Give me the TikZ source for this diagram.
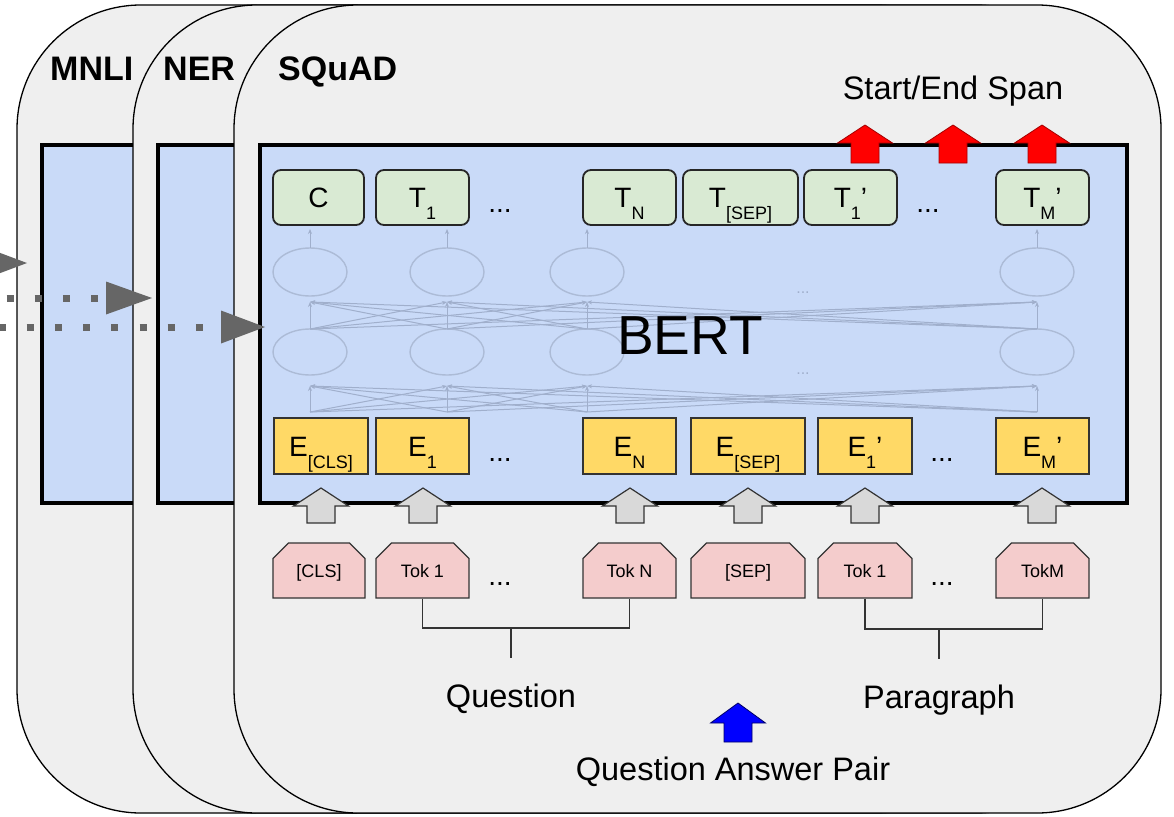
\documentclass[tikz,border=0pt]{standalone}
\usepackage{fontspec}
\setmainfont{Liberation Sans}
\usetikzlibrary{shapes.misc,shapes.geometric,arrows.meta}
\definecolor{cardfill}{HTML}{EFEFEF}
\definecolor{bertblue}{HTML}{C9DAF8}
\definecolor{tgreen}{HTML}{D9EAD3}
\definecolor{eyellow}{HTML}{FFD966}
\definecolor{tokpink}{HTML}{F4CCCC}
\definecolor{arrgray}{HTML}{D9D9D9}
\definecolor{darkline}{HTML}{333333}
\definecolor{dotgray}{HTML}{666666}
\definecolor{netline}{RGB}{160,175,204}
\definecolor{netell}{RGB}{172,187,214}
\newcommand\sbx[1]{\raisebox{-12pt}{\fontsize{18}{18}\selectfont #1}}
\newcommand\blockarrow[5]{%
  \path[#1] ({#2-27.5},#4) -- (#2,#3) -- ({#2+27.5},#4) -- ({#2+14},#4) -- ({#2+14},#5) -- ({#2-14},#5) -- ({#2-14},#4) -- cycle;}
\begin{document}
\begin{tikzpicture}[x=1pt,y=-1pt,
  card/.style={draw=black, line width=1.3pt, fill=cardfill, rounded corners=124pt},
  bertbox/.style={draw=black, line width=4pt, fill=bertblue},
  gbox/.style={draw=black!85, line width=1.8pt, fill=tgreen, rounded corners=8pt, minimum height=55pt, inner sep=0pt, text height=20pt, text depth=0pt, font=\fontsize{28}{30}\selectfont},
  ybox/.style={draw=black!80, line width=1.2pt, fill=eyellow, minimum height=56pt, inner sep=0pt, text height=20pt, text depth=0pt, font=\fontsize{28}{30}\selectfont},
  pbox/.style={chamfered rectangle, chamfered rectangle corners={north west,north east}, chamfered rectangle xsep=9pt, chamfered rectangle ysep=9pt, draw=black!80, line width=1.2pt, fill=tokpink, minimum height=55pt, inner sep=0pt, text height=13pt, text depth=0pt, font=\fontsize{18}{20}\selectfont},
  garrow/.style={fill=arrgray, draw=darkline, line width=1.2pt, line join=miter},
  rarrow/.style={fill=red, draw=red!65!black, line width=0.8pt},
  barrow/.style={fill=blue, draw=blue!40!black, line width=0.8pt},
  netarrow/.style={draw=netline, line width=1pt, -{Stealth[length=5pt,width=4pt]}},
  netellipse/.style={ellipse, draw=netell, line width=1.4pt, minimum width=74pt, minimum height=48pt, inner sep=0pt},
  dotline/.style={draw=dotgray, line width=7pt, dash pattern=on 7pt off 21.2pt, line cap=butt},
  bracket/.style={draw=darkline, line width=1.3pt},
  tasklabel/.style={font=\fontsize{34}{36}\selectfont\bfseries, anchor=base west, inner sep=0pt},
  biglabel/.style={font=\fontsize{32.5}{34}\selectfont, anchor=base, inner sep=0pt},
  dotsty/.style={font=\fontsize{28}{30}\selectfont, anchor=base, inner sep=0pt},
  netdots/.style={font=\fontsize{16}{16}\selectfont, text=netline, anchor=base, inner sep=0pt}
]
\useasboundingbox (0,0) rectangle (1174,816);
\fill[white] (0,0) rectangle (1174,816);
\clip (0,0) rectangle (1174,816);

% cards
\path[card] (17,5) rectangle (1000,813);
\path[bertbox] (42,145) rectangle (900,503);
\path[card] (133,5) rectangle (1100,813);
\path[bertbox] (158,145) rectangle (1000,503);
\path[card] (234,5) rectangle (1161,813);
\path[bertbox] (260,145) rectangle (1127,503);

% task labels
\node[tasklabel] (lmnli) at (50,80) {MNLI};
\node[tasklabel] (lner) at (163,80) {NER};
\node[tasklabel] (lsquad) at (278,80) {SQuAD};

% network inside BERT
\foreach \c/\x in {1/310,2/447,3/587,4/1037} {
  \coordinate (nb\c) at (\x,412);
  \coordinate (nl\c) at (\x,386);
  \coordinate (nm\c) at (\x,329);
  \coordinate (nu\c) at (\x,302);
  \coordinate (nt\c) at (\x,248);
  \coordinate (no\c) at (\x,229);
  \node[netellipse] (eu\c) at (\x,272) {};
  \node[netellipse, minimum height=46pt] (el\c) at (\x,352) {};
}
\foreach \a in {1,...,4} {
  \foreach \b in {1,...,4} {
    \draw[netarrow] (nb\a) -- (nl\b);
    \draw[netarrow] (nm\a) -- (nu\b);
  }
  \draw[netarrow] (nt\a) -- (no\a);
}
\node[netdots] (nd1) at (803,293) {...};
\node[netdots] (nd2) at (803,374) {...};

\node[font=\fontsize{55}{58}\selectfont, anchor=base, inner sep=0pt] (bert) at (690,354) {BERT};

% output tokens
\node[gbox, minimum width=91pt] (tC) at (318.5,197.5) {C};
\node[gbox, minimum width=93pt] (tT1) at (422.5,197.5) {T\sbx{1}};
\node[dotsty] (gd1) at (500,212) {...};
\node[gbox, minimum width=93pt] (tTN) at (629.5,197.5) {T\sbx{N}};
\node[gbox, minimum width=115pt] (tTS) at (740.5,197.5) {T\sbx{[SEP]}};
\node[gbox, minimum width=93pt] (tT1p) at (850.5,197.5) {T\sbx{1}’};
\node[dotsty] (gd2) at (928,212) {...};
\node[gbox, minimum width=93pt] (tTM) at (1042.5,197.5) {T\sbx{M}’};

% embeddings
\node[ybox, minimum width=94pt] (eC) at (321,446) {E\sbx{[CLS]}};
\node[ybox, minimum width=93pt] (e1) at (422.5,446) {E\sbx{1}};
\node[dotsty] (yd1) at (500,461) {...};
\node[ybox, minimum width=93pt] (eN) at (629.5,446) {E\sbx{N}};
\node[ybox, minimum width=114pt] (eS) at (748,446) {E\sbx{[SEP]}};
\node[ybox, minimum width=94pt] (e1p) at (865,446) {E\sbx{1}’};
\node[dotsty] (yd2) at (942,461) {...};
\node[ybox, minimum width=93pt] (eM) at (1042.5,446) {E\sbx{M}’};

% input tokens
\node[pbox, minimum width=92pt] (kC) at (319,570.5) {[CLS]};
\node[pbox, minimum width=93pt] (k1) at (422.5,570.5) {Tok 1};
\node[dotsty] (pd1) at (500,585) {...};
\node[pbox, minimum width=93pt] (kN) at (629.5,570.5) {Tok N};
\node[pbox, minimum width=114pt] (kS) at (748,570.5) {[SEP]};
\node[pbox, minimum width=94pt] (k1p) at (865,570.5) {Tok 1};
\node[dotsty] (pd2) at (942,585) {...};
\node[pbox, minimum width=93pt] (kM) at (1042.5,570.5) {TokM};

% gray input arrows
\blockarrow{garrow}{321}{488}{506}{523}
\blockarrow{garrow}{423}{488}{506}{523}
\blockarrow{garrow}{630}{488}{506}{523}
\blockarrow{garrow}{748}{488}{506}{523}
\blockarrow{garrow}{865}{488}{506}{523}
\blockarrow{garrow}{1042}{488}{506}{523}

% red output arrows
\blockarrow{rarrow}{865}{125}{143}{163}
\blockarrow{rarrow}{953}{125}{143}{163}
\blockarrow{rarrow}{1042}{125}{143}{163}

\node[biglabel] (span) at (953,99) {Start/End Span};

% brackets
\coordinate (qmid) at (511,628);
\coordinate (qstem) at (511,658);
\draw[bracket] (k1.south) |- (qmid) -| (kN.south);
\draw[bracket] (qmid) -- (qstem);
\coordinate (pmid) at (939,629);
\coordinate (pstem) at (939,659);
\draw[bracket] (k1p.south) |- (pmid) -| (kM.south);
\draw[bracket] (pmid) -- (pstem);

\node[biglabel] (question) at (511,707) {Question};
\node[biglabel] (paragraph) at (939,708) {Paragraph};

% blue arrow and pair label
\blockarrow{barrow}{738}{703}{723}{742}
\node[biglabel] (qap) at (733,780) {Question Answer Pair};

% dotted arrows from the left
\coordinate (d2s) at (6.5,298);
\coordinate (d2e) at (99,298);
\draw[dotline] (d2s) -- (d2e);
\coordinate (d3s) at (-1.5,327);
\coordinate (d3e) at (203,327);
\draw[dotline] (d3s) -- (d3e);
\coordinate (tip1) at (27,263);
\coordinate (tip2) at (152,298);
\coordinate (tip3) at (265,327);
\fill[dotgray] (tip1) -- (-17,246.5) -- (-17,279.5) -- cycle;
\fill[dotgray] (tip2) -- (106,281.5) -- (106,314.5) -- cycle;
\fill[dotgray] (tip3) -- (221,310.5) -- (221,343.5) -- cycle;
\end{tikzpicture}
\end{document}
